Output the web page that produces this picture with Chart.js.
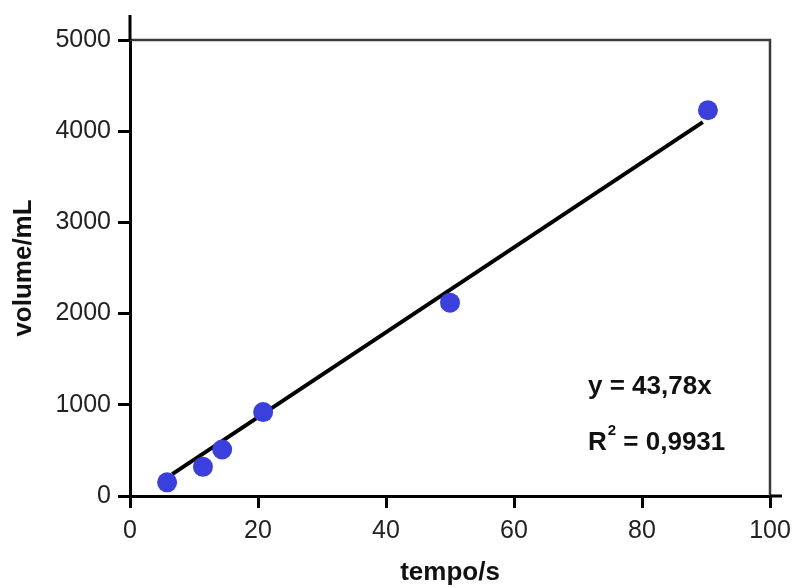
<!DOCTYPE html>
<html>
<head>
<meta charset="utf-8">
<script src="https://cdn.jsdelivr.net/npm/chart.js@4/dist/chart.umd.min.js"></script>
<style>
  html, body { margin: 0; padding: 0; background: #fff; }
  #wrap { width: 799px; height: 588px; }
</style>
</head>
<body>
<div id="wrap"><canvas id="volumeChart" width="799" height="588"></canvas></div>
<script>
// measured points (tempo in s, volume in mL)
const timeValues = [5.8, 11.4, 14.4, 20.8, 50, 90.3];
const volumeValues = [150, 320, 510, 920, 2120, 4230];

// trend line ends
const fitTime = [6.6, 89.5];
const fitVolume = [240, 4100];

const xTicks = [0, 20, 40, 60, 80, 100];
const yTicks = [0, 1000, 2000, 3000, 4000, 5000];

const equationText = 'y = 43,78x';
const rSquaredText = '0,9931';

const FONT = "'Liberation Sans', Arial, sans-serif";

/**
 * Extra frame bits: top/right box, axis overhangs and the fit equation
 */
const framePlugin = {
  id: 'frame',
  afterDraw(chart) {
    const ctx = chart.ctx;
    const area = chart.chartArea;
    ctx.save();

    // grey box on top and right
    ctx.strokeStyle = '#3a3a3a';
    ctx.lineWidth = 2.5;
    ctx.beginPath();
    ctx.moveTo(area.left, area.top);
    ctx.lineTo(area.right, area.top);
    ctx.lineTo(area.right, area.bottom);
    ctx.stroke();

    // axes run a little past the plot
    ctx.strokeStyle = '#000';
    ctx.lineWidth = 3;
    ctx.beginPath();
    ctx.moveTo(area.left, area.top - 25);
    ctx.lineTo(area.left, area.top);
    ctx.moveTo(area.right, area.bottom);
    ctx.lineTo(area.right + 12, area.bottom);
    ctx.stroke();

    // equation and R squared
    ctx.fillStyle = '#111';
    ctx.textBaseline = 'middle';
    ctx.textAlign = 'left';
    ctx.font = 'bold 26px ' + FONT;
    ctx.fillText(equationText, 588, 387);

    let x = 588;
    ctx.fillText('R', x, 443);
    x += ctx.measureText('R').width;
    ctx.font = 'bold 15px ' + FONT;
    ctx.fillText('2', x + 1, 431);
    x += ctx.measureText('2').width + 1;
    ctx.font = 'bold 26px ' + FONT;
    ctx.fillText(' = ' + rSquaredText, x, 443);

    ctx.restore();
  }
};

const pointData = timeValues.map((t, i) => ({ x: t, y: volumeValues[i] }));
const fitData = fitTime.map((t, i) => ({ x: t, y: fitVolume[i] }));

new Chart(document.getElementById('volumeChart'), {
  type: 'scatter',
  data: {
    datasets: [
      {
        label: 'volume',
        data: pointData,
        backgroundColor: '#3b3fdc',
        borderWidth: 0,
        pointRadius: 10,
        order: 0
      },
      {
        label: 'fit',
        data: fitData,
        showLine: true,
        borderColor: '#000',
        borderWidth: 4,
        pointRadius: 0,
        fill: false,
        order: 1
      }
    ]
  },
  options: {
    responsive: false,
    animation: false,
    devicePixelRatio: 1,
    layout: {
      padding: { top: 40, right: 29, left: 0, bottom: 0 }
    },
    plugins: {
      legend: { display: false },
      tooltip: { enabled: false }
    },
    scales: {
      x: {
        type: 'linear',
        min: 0,
        max: 100,
        afterFit: function(scale) { scale.height = 92; },
        afterBuildTicks: function(scale) {
          scale.ticks = xTicks.map(v => ({ value: v }));
        },
        ticks: {
          color: '#222',
          padding: 8,
          font: { family: FONT, size: 25 },
          maxRotation: 0,
          callback: v => String(v)
        },
        grid: {
          drawOnChartArea: false,
          drawTicks: true,
          tickLength: 12,
          color: '#000',
          lineWidth: 3
        },
        border: { display: true, color: '#000', width: 3 },
        title: {
          display: true,
          text: 'tempo/s',
          color: '#111',
          font: { family: FONT, size: 26, weight: 'bold' },
          padding: { top: 0, bottom: 0 }
        }
      },
      y: {
        type: 'linear',
        min: 0,
        max: 5000,
        afterFit: function(scale) { scale.width = 130; },
        afterBuildTicks: function(scale) {
          scale.ticks = yTicks.map(v => ({ value: v }));
        },
        ticks: {
          color: '#222',
          padding: 7,
          font: { family: FONT, size: 25 },
          callback: v => String(v)
        },
        grid: {
          drawOnChartArea: false,
          drawTicks: true,
          tickLength: 12,
          color: '#000',
          lineWidth: 3
        },
        border: { display: true, color: '#000', width: 3 },
        title: {
          display: true,
          text: 'volume/mL',
          color: '#111',
          font: { family: FONT, size: 26, weight: 'bold' },
          padding: { top: 8, bottom: 0 }
        }
      }
    }
  },
  plugins: [framePlugin]
});
</script>
</body>
</html>
